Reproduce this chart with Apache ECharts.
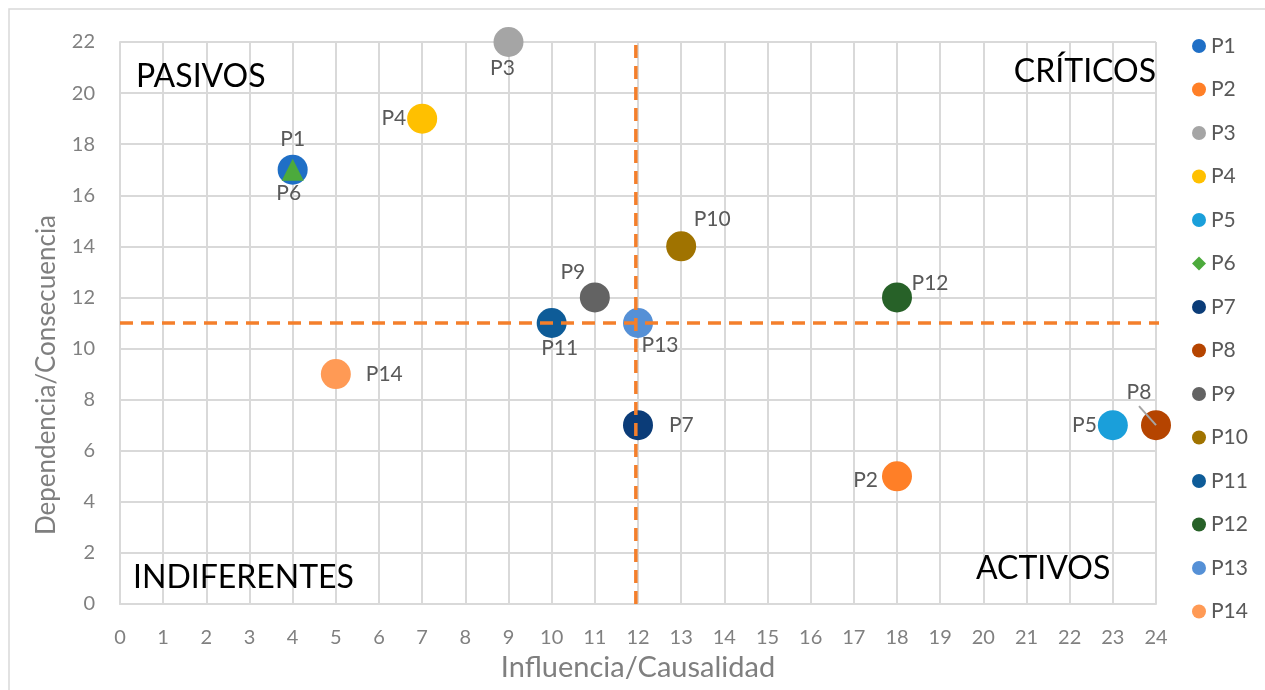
<!DOCTYPE html>
<html>
<head>
<meta charset="utf-8">
<script src="https://cdn.jsdelivr.net/npm/echarts@6/dist/echarts.min.js"></script>
<style>
html,body{margin:0;padding:0;background:#fff;}
#chart{width:1265px;height:690px;}
</style>
</head>
<body>
<div id="chart"></div>
<script>
// ---- data ----
const names = ['P1','P2','P3','P4','P5','P6','P7','P8','P9','P10','P11','P12','P13','P14'];
const influencia = [4, 18, 9, 7, 23, 4, 12, 24, 11, 13, 10, 18, 12, 5];
const dependencia = [17, 5, 22, 19, 7, 17, 7, 7, 12, 14, 11, 12, 11, 9];
const colors = ['#1F6FC6','#FF7F27','#A5A5A5','#FFC000','#1A9FDA','#4CAA3C','#0B3C78','#B54400','#636363','#A07300','#0E5C98','#276128','#5590D6','#FF9A55'];
const thresholdX = 12;
const thresholdY = 11;
const xMin = 0, xMax = 24, yMin = 0, yMax = 22;
const quadrantNames = ['PASIVOS','CRÍTICOS','INDIFERENTES','ACTIVOS'];
const xTitle = 'Influencia/Causalidad';
const yTitle = 'Dependencia/Consecuencia';

// label placement (style) per point
const labelCfg = {
  P1:{position:'top',distance:5},
  P2:{position:'left',distance:4,offset:[0,4]},
  P3:{position:'bottom',distance:1,offset:[-6,0]},
  P4:{position:'left',distance:1},
  P5:{position:'left',distance:1},
  P6:{position:'bottom',distance:2,offset:[-4,0]},
  P7:{position:'right',distance:16},
  P8:{position:'inside',offset:[-17,-33]},
  P9:{position:'inside',offset:[-22,-25]},
  P10:{position:'inside',offset:[31,-27]},
  P11:{position:'bottom',distance:0,offset:[8,0]},
  P12:{position:'inside',offset:[33,-14]},
  P13:{position:'inside',offset:[22,22]},
  P14:{position:'right',distance:15}
};

const font = 'Lato, "Open Sans", sans-serif';
const series = names.map((n,i)=>({
  name:n,
  type:'scatter',
  symbol: n==='P6' ? 'triangle' : 'circle',
  symbolSize: n==='P6' ? 22 : 30,
  itemStyle:{color:colors[i], opacity:1},
  z: n==='P6' ? 4 : 3,
  data:[[influencia[i], dependencia[i]]],
  label:Object.assign({show:true, formatter:n, color:'#595959', fontSize:21, fontFamily:font}, labelCfg[n]),
  emphasis:{disabled:true}
}));
series.push({
  name:'thrX', type:'line', z:6, symbol:'none', silent:true,
  lineStyle:{color:'#F47F2B', width:3.5, type:[13,8]},
  data:[[thresholdX-0.05,yMin],[thresholdX-0.05,yMax]]
});
series.push({
  name:'thrY', type:'line', z:6, symbol:'none', silent:true,
  lineStyle:{color:'#F47F2B', width:3.5, type:[13,8]},
  data:[[xMin,thresholdY],[xMax+0.1,thresholdY]]
});

const chart = echarts.init(document.getElementById('chart'), null, {renderer:'canvas'});
const baseGraphic = [
  {type:'rect', shape:{x:9, y:9, width:1270, height:700}, style:{fill:'none', stroke:'#D9D9D9', lineWidth:1.5}, silent:true},
  {type:'text', left:136, top:61, z:10, style:{text:quadrantNames[0], fill:'#000', fontSize:32, fontFamily:font}},
  {type:'text', right:109, top:56, z:10, style:{text:quadrantNames[1], fill:'#000', fontSize:32, fontFamily:font}},
  {type:'text', left:133, top:562, z:10, style:{text:quadrantNames[2], fill:'#000', fontSize:32, fontFamily:font}},
  {type:'text', left:976, top:553, z:10, style:{text:quadrantNames[3], fill:'#000', fontSize:32, fontFamily:font}},
  {type:'text', x:47, y:375, rotation:Math.PI/2, z:10,
   style:{text:yTitle, fill:'#7F7F7F', fontSize:26, fontFamily:font, textAlign:'center', textVerticalAlign:'middle'}}
];
chart.setOption({
  animation:false,
  backgroundColor:'#ffffff',
  grid:{left:120, right:109, top:42, bottom:86, containLabel:false},
  xAxis:{
    type:'value', min:xMin, max:xMax, interval:1,
    name:xTitle, nameLocation:'middle', nameGap:47,
    nameTextStyle:{color:'#7F7F7F', fontSize:29, fontFamily:font},
    axisLine:{show:true, lineStyle:{color:'#D9D9D9', width:2}},
    axisTick:{show:false},
    axisLabel:{color:'#808080', fontSize:20, margin:24, fontFamily:font},
    splitLine:{show:true, lineStyle:{color:'#D9D9D9', width:2}}
  },
  yAxis:{
    type:'value', min:yMin, max:yMax, interval:2,
    axisLine:{show:true, lineStyle:{color:'#D9D9D9', width:2}},
    axisTick:{show:false},
    axisLabel:{color:'#808080', fontSize:20, margin:25, fontFamily:font},
    splitLine:{show:true, lineStyle:{color:'#D9D9D9', width:2}}
  },
  legend:{
    orient:'vertical', left:1187, top:30.5,
    data:names.map(n=>({name:n, icon: n==='P6' ? 'diamond' : 'circle'})),
    itemWidth:14, itemHeight:14, itemGap:22.5,
    textStyle:{color:'#595959', fontSize:21, fontFamily:font},
    selectedMode:false
  },
  graphic:baseGraphic,
  series:series
});
// P8 leader line, placed through the coordinate system
(function(){
  const i = names.indexOf('P8');
  const p = chart.convertToPixel({gridIndex:0}, [influencia[i], dependencia[i]]);
  chart.setOption({graphic:baseGraphic.concat([
    {type:'line', z:100, shape:{x1:p[0]-17, y1:p[1]-19, x2:p[0], y2:p[1]}, style:{stroke:'#A5A5A5', lineWidth:2}}
  ])});
})();
</script>
</body>
</html>
